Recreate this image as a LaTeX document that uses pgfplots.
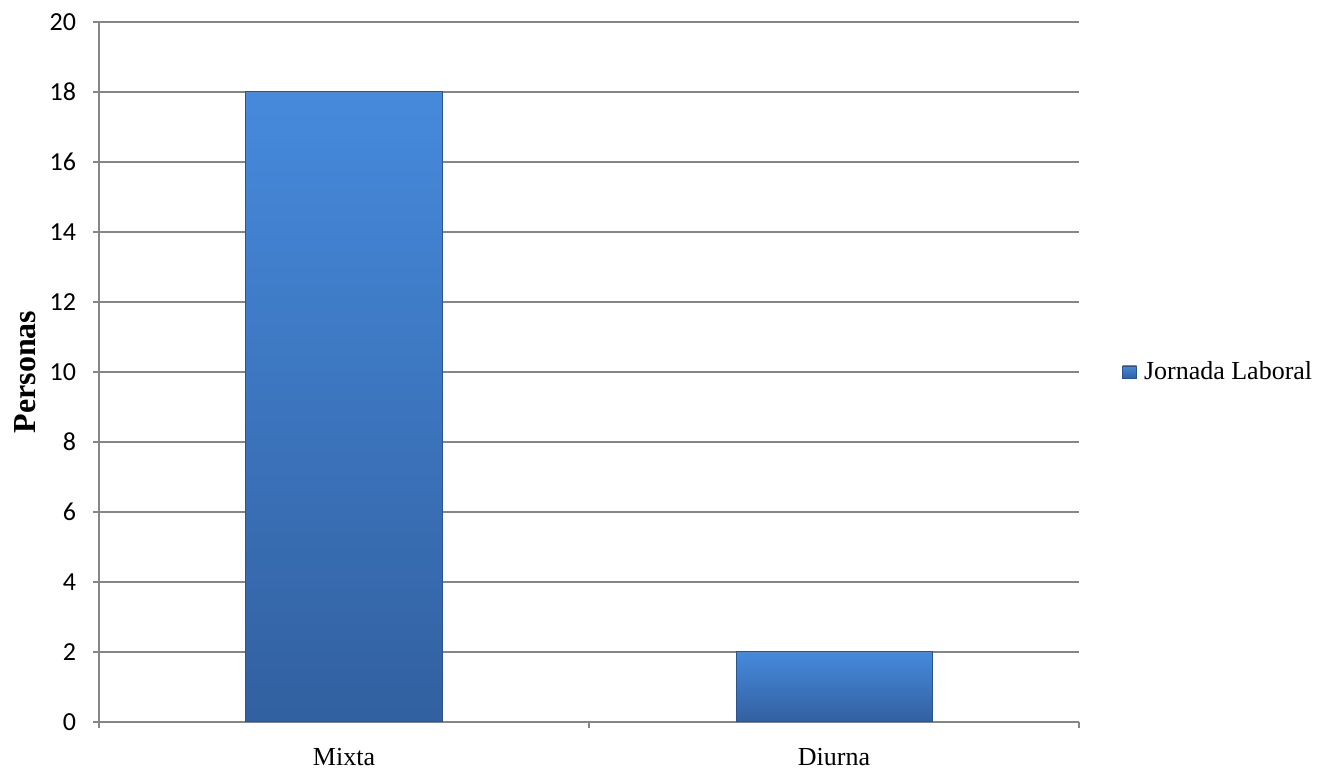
\documentclass[border=0pt]{standalone}
\usepackage{fontspec}
\setmainfont{Liberation Serif}
\newfontfamily\calibri{Carlito}
\usepackage{pgfplots}
\pgfplotsset{compat=1.18}
\definecolor{gridgray}{RGB}{134,134,134}
\definecolor{bartop}{RGB}{70,138,220}
\definecolor{barbot}{RGB}{50,96,160}
\definecolor{baredge}{RGB}{44,84,140}
\begin{document}
\begin{tikzpicture}
\useasboundingbox (-49.5pt,-23.5pt) rectangle (617.5pt,361pt);
\begin{axis}[
  at={(0,0)}, anchor=south west,
  scale only axis,
  width=490pt, height=350pt,
  xmin=-0.5, xmax=1.5,
  ymin=0, ymax=20,
  ytick={0,2,...,20},
  xtick={0,1},
  xticklabels={Mixta,Diurna},
  minor xtick={-0.5,0.5,1.5},
  tick align=outside,
  major tick length=3pt,
  minor tick length=3pt,
  x tick style={draw=none},
  minor x tick style={draw=gridgray, line width=0.6pt},
  y tick style={draw=gridgray, line width=0.6pt},
  axis x line*=bottom,
  axis y line*=left,
  axis line style={draw=gridgray, line width=0.6pt, -},
  ymajorgrids,
  grid style={draw=gridgray, line width=0.6pt},
  /pgf/number format/assume math mode=true,
  yticklabel style={font=\calibri\fontsize{13}{15}\selectfont, xshift=-5pt},
  xticklabel style={font=\fontsize{13}{15}\selectfont, yshift=-6.5pt},
  ylabel={Personas},
  ylabel style={font=\bfseries\fontsize{16}{18}\selectfont, at={(axis description cs:-0.0755,0.5)}, anchor=center, rotate=0},
  legend style={at={(axis description cs:1.0439,0.5)}, anchor=west, draw=none, fill=none,
    font=\fontsize{13}{15}\selectfont, inner sep=0pt, nodes={inner sep=2pt}},
  legend image code/.code={\shade[top color=bartop, bottom color=barbot, draw=baredge, line width=0.3pt] (0pt,-3pt) rectangle (7pt,3pt);},
]
\addplot[ybar, bar width=0.4, top color=bartop, bottom color=barbot, draw=baredge, line width=0.5pt]
  coordinates {(0,18)};
\addlegendentry{\hspace{1.5pt}Jornada Laboral}
\addplot[ybar, bar width=0.4, top color=bartop, bottom color=barbot, draw=baredge, line width=0.5pt, forget plot]
  coordinates {(1,2)};
\end{axis}
\end{tikzpicture}
\end{document}
